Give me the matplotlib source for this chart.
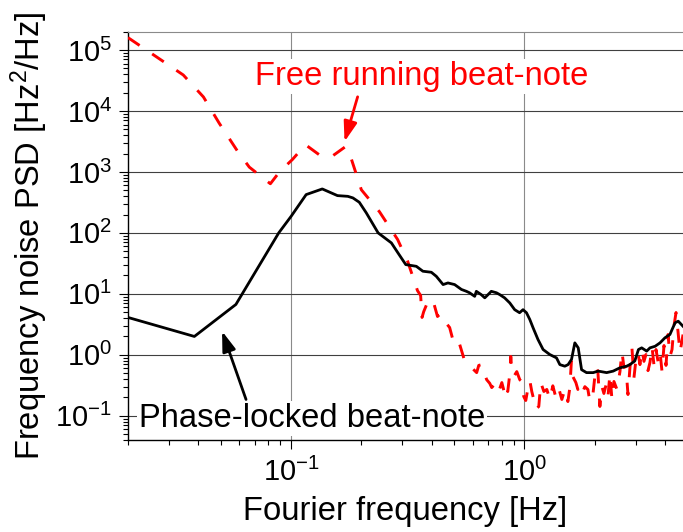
import matplotlib
matplotlib.use("Agg")
import matplotlib.pyplot as plt
from matplotlib.ticker import LogLocator, NullFormatter


# Phase-locked beat-note PSD
f_locked = [0.02, 0.0385, 0.058, 0.0885, 0.1, 0.116, 0.136, 0.158, 0.175, 0.184,
            0.196, 0.210, 0.236, 0.269, 0.287, 0.310, 0.344, 0.367, 0.399, 0.419,
            0.448, 0.470, 0.502, 0.537, 0.564, 0.582, 0.612, 0.622, 0.653, 0.676,
            0.698, 0.721, 0.759, 0.784, 0.822, 0.865, 0.908, 0.953, 0.986, 1.02,
            1.054, 1.089, 1.143, 1.202, 1.284, 1.372, 1.418, 1.489, 1.538, 1.591,
            1.644, 1.70, 1.757, 1.845, 1.97, 2.07, 2.25, 2.40, 2.56, 2.74,
            2.83, 2.97, 3.08, 3.18, 3.34, 3.45, 3.63, 3.81, 4.00, 4.20,
            4.42, 4.56, 4.78]
psd_locked = [4.1, 2.0, 6.7, 100, 187, 425, 526, 409, 398, 375,
              318, 213, 100, 68.5, 47, 30.2, 28.3, 23.5, 22.6, 19.4,
              14.2, 15.1, 14.2, 11.8, 11.0, 10.4, 9.1, 11.0, 9.7, 8.6,
              9.7, 11.0, 10.4, 9.7, 8.6, 7.1, 5.5, 4.9, 5.5, 4.9,
              3.8, 2.77, 1.78, 1.22, 1.01, 0.89, 0.69, 0.65, 0.69, 0.84,
              1.57, 1.30, 0.57, 0.51, 0.51, 0.54, 0.51, 0.54, 0.61, 0.65,
              0.69, 0.79, 1.22, 1.30, 1.15, 1.30, 1.38, 1.57, 1.90, 2.15,
              3.35, 3.56, 2.94]

# Free running beat-note PSD
f_free = [0.02, 0.0264, 0.0345, 0.0421, 0.0492, 0.0589, 0.0662, 0.0815, 0.0891, 0.1013,
          0.1152, 0.1323, 0.149, 0.171, 0.1815, 0.2, 0.239, 0.286, 0.316, 0.348,
          0.359, 0.364, 0.370, 0.381, 0.388, 0.396, 0.408, 0.416, 0.424, 0.437,
          0.446, 0.459, 0.478, 0.488, 0.497, 0.512, 0.528, 0.544, 0.555, 0.571,
          0.588, 0.606, 0.624, 0.637, 0.656, 0.669, 0.689, 0.710, 0.724, 0.746,
          0.768, 0.784, 0.800, 0.816, 0.832, 0.848, 0.865, 0.874, 0.883, 0.900,
          0.927, 0.955, 0.974, 0.993, 1.013, 1.033, 1.054, 1.075, 1.096, 1.118,
          1.152, 1.175, 1.211, 1.247, 1.285, 1.323, 1.363, 1.404, 1.446, 1.490,
          1.535, 1.565, 1.589, 1.612, 1.661, 1.694, 1.728, 1.780, 1.815, 1.870,
          1.907, 1.965, 2.024, 2.064, 2.105, 2.148, 2.190, 2.234, 2.279, 2.324,
          2.371, 2.418, 2.491, 2.566, 2.617, 2.669, 2.722, 2.777, 2.832, 2.889,
          2.946, 3.005, 3.065, 3.126, 3.189, 3.252, 3.317, 3.384, 3.451, 3.520,
          3.590, 3.662, 3.735, 3.809, 3.886, 3.963, 4.042, 4.123, 4.205, 4.289,
          4.375, 4.462, 4.550, 4.641, 4.781]
psd_free = [1.6e5, 7.8e4, 3.9e4, 1.7e4, 6.3e3, 2.2e3, 1.2e3, 640, 1.0e3, 1.6e3,
            2.8e3, 1.9e3, 1.78e3, 2.6e3, 1.6e3, 510, 223, 78, 34, 11.3,
            9.4, 4.1, 5.1, 6.7, 7.8, 6.9, 7.2, 5.5, 4.25, 4.75,
            4.1, 3.4, 2.8, 2.07, 1.59, 1.32, 1.47, 1.01, 0.78, 0.72,
            0.64, 0.57, 0.51, 0.67, 0.69, 0.53, 0.39, 0.34, 0.29, 0.33,
            0.38, 0.28, 0.35, 0.26, 0.34, 0.25, 0.48, 0.94, 0.53, 0.44,
            0.53, 0.39, 0.365, 0.207, 0.178, 0.27, 0.38, 0.25, 0.185, 0.127,
            0.142, 0.35, 0.25, 0.27, 0.185, 0.31, 0.20, 0.28, 0.185, 0.27,
            0.171, 0.29, 0.78, 0.44, 0.35, 0.27, 0.33, 0.25, 0.30, 0.27,
            0.171, 0.223, 0.64, 0.53, 0.142, 0.30, 0.232, 0.314, 0.20, 0.49,
            0.185, 0.365, 0.27, 0.53, 1.13, 0.62, 0.64, 0.223, 0.62, 1.27,
            0.42, 0.84, 1.09, 0.69, 1.22, 0.78, 1.01, 0.55, 0.75, 1.37,
            0.67, 1.22, 0.78, 1.13, 0.53, 1.42, 0.67, 2.15, 0.94, 1.22,
            3.02, 4.94, 2.41, 1.09, 2.15]

x_label = "Fourier frequency [Hz]"
y_label = "Frequency noise PSD [Hz$^2$/Hz]"
free_label = "Free running beat-note"
locked_label = "Phase-locked beat-note"

x_lim = (0.02, 4.78)
y_lim = (0.04, 2.0e5)


plt.rcParams["font.family"] = ["Liberation Sans", "DejaVu Sans"]
plt.rcParams["mathtext.fontset"] = "custom"
plt.rcParams["mathtext.rm"] = "Liberation Sans"
plt.rcParams["mathtext.it"] = "Liberation Sans:italic"
plt.rcParams["mathtext.bf"] = "Liberation Sans:bold"

text_size = 23.6

fig = plt.figure(figsize=(6.83, 5.32), dpi=100)
ax = fig.add_axes([128 / 683, 1 - 440 / 532, 555 / 683, 408.3 / 532])

# Curves
# ------
ax.plot(f_free, psd_free, color="#ff0000", linewidth=2.1,
        linestyle=(0, (4.8, 5.2)), zorder=3)
ax.plot(f_locked, psd_locked, color="black", linewidth=2.0, zorder=4)

ax.set_xscale("log")
ax.set_yscale("log")
ax.set_xlim(*x_lim)
ax.set_ylim(*y_lim)

# Axes
# ----
ax.yaxis.set_major_locator(LogLocator(base=10, numticks=20))
ax.yaxis.set_minor_locator(LogLocator(base=10, subs=range(2, 10), numticks=20))
ax.xaxis.set_minor_locator(LogLocator(base=10, subs=range(2, 10), numticks=20))
ax.xaxis.set_minor_formatter(NullFormatter())
ax.yaxis.set_minor_formatter(NullFormatter())

ax.tick_params(which="major", direction="out", length=6.5, width=0.8,
               labelsize=21)
ax.tick_params(axis="x", which="major", pad=6)
ax.tick_params(axis="y", which="major", pad=5)
ax.tick_params(which="minor", direction="out", length=3.6, width=0.8)

ax.grid(True, which="major", axis="y", color="#404040", linewidth=0.8)
ax.grid(True, which="major", axis="x", color="#8a8a8a", linewidth=0.8)
ax.set_axisbelow(True)

ax.spines["right"].set_visible(False)
ax.spines["top"].set_color("#8a8a8a")
ax.spines["top"].set_linewidth(0.8)
ax.spines["left"].set_linewidth(1.0)
ax.spines["bottom"].set_linewidth(1.0)

ax.set_xlabel(x_label, fontsize=text_size, labelpad=7)
ax.set_ylabel(y_label, fontsize=text_size, labelpad=4)

# Labels and arrows
# -----------------
box = dict(facecolor="white", edgecolor="none", pad=1.5)
ax.text(0.364, 3.65e4, free_label, color="#ff0000", fontsize=text_size,
        ha="center", va="center", bbox=box, zorder=6)
ax.text(0.1233, 0.0917, locked_label, color="black", fontsize=text_size,
        ha="center", va="center", bbox=box, zorder=6)

ax.annotate("", xy=(0.1694, 3.14e3), xytext=(0.1928, 1.71e4),
            arrowprops=dict(arrowstyle="-|>,head_length=0.6,head_width=0.2",
                            color="#ff0000", lw=2, mutation_scale=20,
                            shrinkA=0, shrinkB=0), zorder=6)
ax.annotate("", xy=(0.0506, 2.44), xytext=(0.0641, 0.185),
            arrowprops=dict(arrowstyle="-|>,head_length=0.6,head_width=0.2",
                            color="black", lw=2, mutation_scale=20,
                            shrinkA=0, shrinkB=0), zorder=6)

fig.savefig("out.png", dpi=100)
